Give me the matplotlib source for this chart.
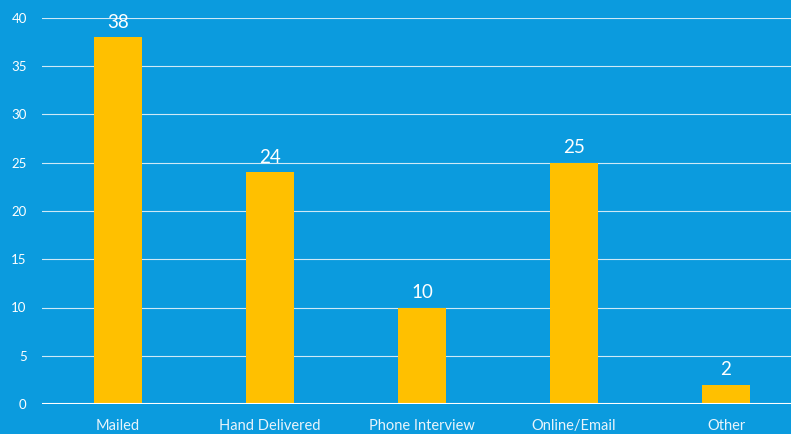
import matplotlib
matplotlib.use("Agg")
import matplotlib.pyplot as plt

categories = ["Mailed", "Hand Delivered", "Phone Interview", "Online/Email", "Other"]
values = [38, 24, 10, 25, 2]
yticks = [0, 5, 10, 15, 20, 25, 30, 35, 40]

bg = "#0b9bde"
bar_color = "#ffc000"

plt.rcParams['font.family'] = ['Lato', 'DejaVu Sans']

fig = plt.figure(figsize=(7.91, 4.34), dpi=100)
fig.patch.set_facecolor(bg)
# axes run off the right edge, as in the reference
ax = fig.add_axes([42/791, 30/434, 760/791, 386/434])
ax.set_facecolor(bg)

x = list(range(len(categories)))
bars = ax.bar(x, values, width=0.31, color=bar_color, zorder=3)

for xi, v in zip(x, values):
    ax.text(xi, v + 0.7, str(v), ha="center", va="bottom", color="white", fontsize=13.5, zorder=4)

ax.set_xlim(-0.5, 4.5)
ax.set_ylim(0, 40)
ax.set_yticks(yticks)
ax.set_xticks(x)
ax.set_xticklabels(categories)
ax.yaxis.grid(True, color="#cfe9f7", linewidth=0.8, zorder=0)
ax.axhline(0, color="white", linewidth=1.5, zorder=3)
for s in ax.spines.values():
    s.set_visible(False)
ax.tick_params(axis="both", length=0, colors="white")
ax.tick_params(axis="y", pad=11, labelsize=9.5)
ax.tick_params(axis="x", pad=11, labelsize=10.5)
for lab in ax.get_xticklabels():
    lab.set_color("#e8f4fb")

fig.savefig("out.png", dpi=100, facecolor=bg)
